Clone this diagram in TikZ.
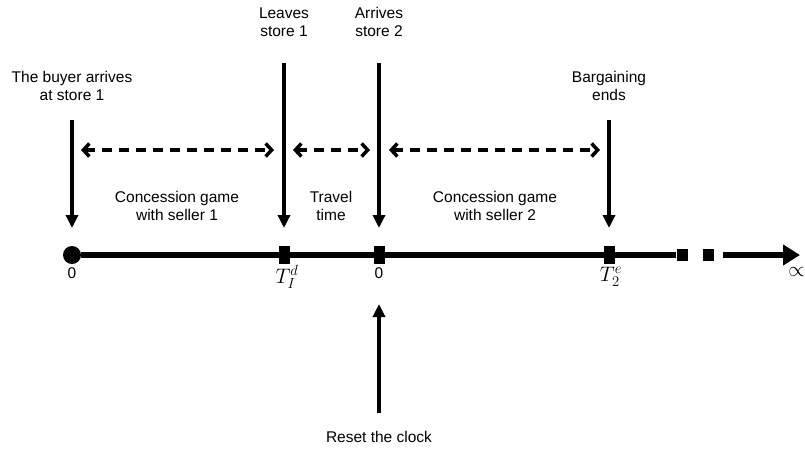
\RequirePackage{fix-cm}
\documentclass[tikz,border=0pt]{standalone}
\usepackage{fontspec}
\setmainfont{Liberation Sans}
\usetikzlibrary{arrows.meta}
\begin{document}
\begin{tikzpicture}[x=1pt,y=-1pt,font=\fontsize{15.5}{18}\selectfont,
  axis/.style={line width=6.5pt},
  tick/.style={fill,minimum width=11pt,minimum height=18pt,inner sep=0pt},
  down/.style={line width=3.5pt,-{Triangle[width=12pt,length=13pt]}},
  span/.style={line width=3.5pt,dash pattern=on 10pt off 7pt,
    {Straight Barb[length=6pt,width=13pt,line width=3.5pt]}-{Straight Barb[length=6pt,width=13pt,line width=3.5pt]}},
  lbl/.style={align=center,inner sep=0pt},
  mlbl/.style={inner sep=0pt,font=\fontsize{21}{24}\selectfont}]
\useasboundingbox (0,0) rectangle (805,450);

% time line
\node[fill,circle,minimum size=18pt,inner sep=0pt] (start) at(72,255){};
\node[tick] (leave) at(284,255){};
\node[tick] (arrive) at(379,255){};
\node[tick] (ends) at(609,255){};
\node[tick,minimum height=12pt] (dotA) at(682,255){};
\node[tick,minimum height=12pt] (dotB) at(708,255){};
\coordinate (inf0) at(723,255);
\coordinate (inf1) at(800,255);
\draw[axis] (start) -- (dotA);
\draw[axis,-{Triangle[width=20pt,length=17pt]}] (inf0) -- (inf1);

\node (z0) at(72,273){0};
\node[mlbl] (td) at(287,277){$T_I^d$};
\node (z1) at(379,273){0};
\node[mlbl] (te) at(611,277){$T_2^e$};
\node[mlbl,anchor=east] (infty) at(805,272){$\propto$};

% events
\node[lbl] (buyer) at(72,86){The buyer arrives\\at store 1};
\node[lbl] (left1) at(284,22){Leaves\\store 1};
\node[lbl] (arr2) at(379,22){Arrives\\store 2};
\node[lbl] (bargain) at(609,86){Bargaining\\ends};
\node[lbl] (reset) at(379,437){Reset the clock};

\coordinate (b0) at(72,120);
\coordinate (b1) at(72,228);
\coordinate (l0) at(284,63);
\coordinate (l1) at(284,228);
\coordinate (a0) at(379,63);
\coordinate (a1) at(379,228);
\coordinate (e0) at(609,120);
\coordinate (e1) at(609,228);
\coordinate (r0) at(379,413);
\coordinate (r1) at(379,304);
\draw[down] (b0) -- (b1);
\draw[down] (l0) -- (l1);
\draw[down] (a0) -- (a1);
\draw[down] (e0) -- (e1);
\draw[down] (r0) -- (r1);

% phases
\coordinate (g1a) at(81,150);
\coordinate (g1b) at(274,150);
\coordinate (g2a) at(293,150);
\coordinate (g2b) at(370,150);
\coordinate (g3a) at(389,150);
\coordinate (g3b) at(600,150);
\draw[span] (g1a) -- (g1b);
\draw[span] (g2a) -- (g2b);
\draw[span] (g3a) -- (g3b);

\node[lbl] (seller1) at(177,206){Concession game\\with seller 1};
\node[lbl] (travel) at(331,206){Travel\\time};
\node[lbl] (seller2) at(495,206){Concession game\\with seller 2};
\end{tikzpicture}
\end{document}
